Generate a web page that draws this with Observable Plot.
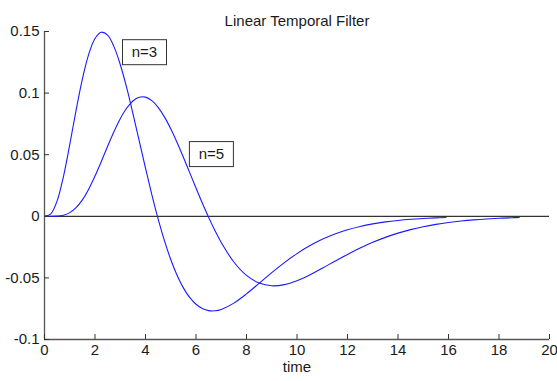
<!DOCTYPE html>
<html><head><meta charset="utf-8">
<script src="https://cdn.jsdelivr.net/npm/d3@7"></script>
<script src="https://cdn.jsdelivr.net/npm/@observablehq/plot@0.6"></script>
<style>
html,body{margin:0;padding:0;background:#fff;}
#chart svg{font-family:"Liberation Sans",Arial,sans-serif;display:block;}
</style></head><body><div id="chart"></div>
<script>
const title = "Linear Temporal Filter";
const xLabel = "time";
const xTicks = [0, 2, 4, 6, 8, 10, 12, 14, 16, 18, 20];
const yTicks = [-0.1, -0.05, 0, 0.05, 0.1, 0.15];
const yTickLabels = ["-0.1", "-0.05", "0", "0.05", "0.1", "0.15"];

// n = 3 curve (time, response)
const t3 = [0, 0.25, 0.5, 0.75, 1, 1.25, 1.5, 1.75, 2, 2.25, 2.5, 2.75, 3, 3.25, 3.5, 3.75, 4, 4.25, 4.5, 4.75, 5, 5.25, 5.5, 5.75, 6, 6.25, 6.5, 6.75, 7, 7.5, 8, 8.5, 9, 9.5, 10, 10.5, 11, 11.5, 12, 12.5, 13, 13.5, 14, 14.5, 15, 15.5, 15.9];
const v3 = [0, 0.00202, 0.01248, 0.03228, 0.05825, 0.08598, 0.11138, 0.13148, 0.14436, 0.14945, 0.14699, 0.13774, 0.12323, 0.10476, 0.08361, 0.06137, 0.03907, 0.01768, -0.00211, -0.0198, -0.03509, -0.04785, -0.05808, -0.06587, -0.07139, -0.07487, -0.07656, -0.07671, -0.07559, -0.07049, -0.06298, -0.05441, -0.04573, -0.03757, -0.03027, -0.02397, -0.01871, -0.01441, -0.01097, -0.00826, -0.00617, -0.00456, -0.00335, -0.00244, -0.00176, -0.00127, -0.00097];

// n = 5 curve (time, response)
const t5 = [0, 0.25, 0.5, 0.75, 1, 1.25, 1.5, 1.75, 2, 2.25, 2.5, 2.75, 3, 3.25, 3.5, 3.75, 4, 4.25, 4.5, 4.75, 5, 5.25, 5.5, 5.75, 6, 6.25, 6.5, 6.75, 7, 7.5, 8, 8.5, 9, 9.5, 10, 10.5, 11, 11.5, 12, 12.5, 13, 13.5, 14, 14.5, 15, 15.5, 16, 16.5, 17, 17.5, 18, 18.5, 18.8];
const v5 = [0, 0.00001, 0.00016, 0.00092, 0.00299, 0.00702, 0.01336, 0.02203, 0.03265, 0.04454, 0.05686, 0.0687, 0.07922, 0.0877, 0.09362, 0.09667, 0.09675, 0.09393, 0.08846, 0.08069, 0.07102, 0.05995, 0.04795, 0.03548, 0.02295, 0.01073, -0.00087, -0.0116, -0.02129, -0.03711, -0.04798, -0.05419, -0.05639, -0.05545, -0.05225, -0.04759, -0.04216, -0.03649, -0.03094, -0.02578, -0.02115, -0.01711, -0.01367, -0.01079, -0.00843, -0.00653, -0.00501, -0.00381, -0.00288, -0.00216, -0.00161, -0.00119, -0.00099];

const seriesNames = ["n=3", "n=5"];
const labelX = [3.98, 6.63];
const labelY = [0.1328, 0.0501];

const rows = [
  ...t3.map((t, i) => ({t, v: v3[i], s: seriesNames[0]})),
  ...t5.map((t, i) => ({t, v: v5[i], s: seriesNames[1]}))
];
const labels = seriesNames.map((s, i) => ({s, x: labelX[i], y: labelY[i]}));

const W = 557, H = 381, ML = 44, MR = 8, MT = 31, MB = 42;
const tickPx = 5;
const yPerPx = (0.15 - -0.1) / (H - MT - MB);
const xPerPx = 20 / (W - ML - MR);

const chart = Plot.plot({
  width: W, height: H,
  marginLeft: ML, marginRight: MR, marginTop: MT, marginBottom: MB,
  style: {fontSize: "15px", fontFamily: "'Liberation Sans', Arial, sans-serif", color: "#1a1a1a", background: "#fff", overflow: "visible"},
  x: {domain: [0, 20], ticks: xTicks, tickSize: 0, tickPadding: 5, label: null, tickFormat: d => String(d)},
  y: {domain: [-0.1, 0.15], ticks: yTicks, tickSize: 0, tickPadding: 5, label: null,
      tickFormat: d => yTickLabels[yTicks.findIndex(v => Math.abs(v - d) < 1e-9)]},
  marks: [
    Plot.ruleY([0], {x1: 0, x2: 20, stroke: "#000", strokeWidth: 1}),
    Plot.line(rows, {x: "t", y: "v", z: "s", stroke: "#1a1aff", strokeWidth: 1.1, curve: "catmull-rom"}),
    Plot.ruleX([0], {y1: -0.1, y2: 0.15, stroke: "#555", strokeWidth: 1.3}),
    Plot.ruleY([-0.1], {x1: 0, x2: 20, stroke: "#555", strokeWidth: 1.3}),
    Plot.ruleX(xTicks, {x: d => d, y1: -0.1, y2: -0.1 + tickPx * yPerPx, stroke: "#333"}),
    Plot.ruleY(yTicks, {y: d => d, x1: 0, x2: tickPx * xPerPx, stroke: "#333"}),
    Plot.text([title], {frameAnchor: "top", dy: -16, fontSize: 15, fill: "#1a1a1a"}),
    Plot.text([xLabel], {frameAnchor: "bottom", dy: 32, fontSize: 15, fill: "#1a1a1a"})
  ]
});
document.getElementById("chart").append(chart);

// label boxes with text
const sx = chart.scale("x"), sy = chart.scale("y");
const svg = d3.select(chart.tagName.toLowerCase() === "svg" ? chart : chart.querySelector("svg"));
const g = svg.append("g");
labels.forEach(l => {
  const cx = sx.apply(l.x), cy = sy.apply(l.y);
  g.append("rect").attr("x", cx - 22).attr("y", cy - 12.5).attr("width", 44).attr("height", 25)
    .attr("fill", "#fff").attr("stroke", "#333").attr("stroke-width", 1);
  g.append("text").attr("x", cx).attr("y", cy).attr("text-anchor", "middle").attr("dy", "0.35em")
    .attr("font-size", 15).attr("fill", "#1a1a1a").text(l.s);
});
</script></body></html>
